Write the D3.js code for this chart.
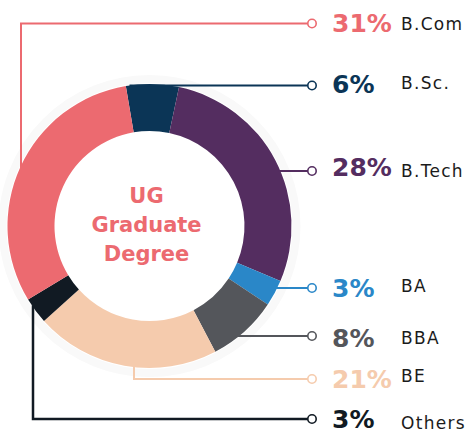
<!DOCTYPE html>
<html>
<head>
<meta charset="utf-8">
<script src="https://cdn.jsdelivr.net/npm/d3@7"></script>
<style>
  body { margin: 0; background: #fff; }
  svg { display: block; }
  .pct { font-family: "DejaVu Sans", sans-serif; font-weight: bold; font-size: 25px; }
  .cat { font-family: "DejaVu Sans", sans-serif; font-size: 17px; letter-spacing: 1.3px; fill: #1b1b1b; }
  .center { font-family: "DejaVu Sans", sans-serif; font-weight: bold; font-size: 21px; fill: #ec6a70; }
</style>
</head>
<body>
<div id="chart"></div>
<script>
// data, clockwise from the top
let categories = ["B.Sc.", "B.Tech", "BA", "BBA", "BE", "Others", "B.Com"];
let values = [6, 28, 3, 8, 21, 3, 31];
let colors = ["#0b3556", "#542d60", "#2a87c8", "#54565b", "#f5cbad", "#111a23", "#ec6a70"];
let centerTitle = ["UG", "Graduate", "Degree"];

// label layout (same order as categories)
let labelY = [85.5, 171, 288, 336, 379, 419, 23.5];
let elbowX = [null, null, null, null, 134, 33, 21];
let pctDy = [7.5, 5, 9, 11, 9, 9, 8.5];
let catDy = [3.5, 6, 4, 8, 3, 10, 6.5];

let width = 467,
height = 434,
cx = 149.5, cy = 226,
outerR = 142, innerR = 95;

let svg = d3.select("#chart")
.append("svg")
.attr("width", width)
.attr("height", height);

let startAngle = -9.6 * Math.PI / 180;

let pie = d3.pie()
.sort(null)
.value(d => d)
.startAngle(startAngle)
.endAngle(startAngle + 2 * Math.PI);

let arc = d3.arc()
.innerRadius(innerR)
.outerRadius(outerR);

let donut = svg.append("g")
.attr("transform", "translate(" + cx + "," + cy + ")");

// faint halo round the ring
donut.append("circle")
.attr("r", outerR + 5)
.attr("fill", "none")
.attr("stroke", "#f9f9f9")
.attr("stroke-width", 8);

donut.selectAll("path")
.data(pie(values))
.enter().append("path")
.attr("d", arc)
.attr("fill", (d, i) => colors[i]);

donut.selectAll("text.center")
.data(centerTitle)
.enter().append("text")
.classed("center", true)
.attr("x", -3)
.attr("y", (d, i) => -23 + i * 29)
.attr("text-anchor", "middle")
.text(d => d);

// leader lines
let circleX = 312;
let lines = svg.append("g");
let labels = svg.append("g");

categories.forEach((c, i) => {
    let y = labelY[i];
    let pts;
    if (elbowX[i] != null) {
        let x = elbowX[i];
        let dx = x - cx;
        let sy = cy + (y < cy ? -1 : 1) * Math.sqrt(outerR * outerR - dx * dx);
        if (y < cy) sy += 3; else sy -= 2;
        pts = [[x, sy], [x, y], [circleX, y]];
    } else {
        let dy = y - cy;
        let sx = cx + Math.sqrt(outerR * outerR - dy * dy) - 2;
        if (i == 0) sx = cx - 20;
        pts = [[sx, y], [circleX, y]];
    }
    lines.append("path")
    .attr("d", d3.line()(pts))
    .attr("fill", "none")
    .attr("stroke", colors[i])
    .attr("stroke-width", i == 5 ? 2.5 : 2);

    lines.append("circle")
    .attr("cx", circleX)
    .attr("cy", y)
    .attr("r", 4.2)
    .attr("fill", "#fff")
    .attr("stroke", colors[i])
    .attr("stroke-width", 1.6);

    labels.append("text")
    .classed("pct", true)
    .attr("x", 332)
    .attr("y", y + pctDy[i])
    .attr("fill", colors[i])
    .text(values[i] + "%");

    labels.append("text")
    .classed("cat", true)
    .attr("x", 401)
    .attr("y", y + catDy[i])
    .text(c);
});
</script>
</body>
</html>
